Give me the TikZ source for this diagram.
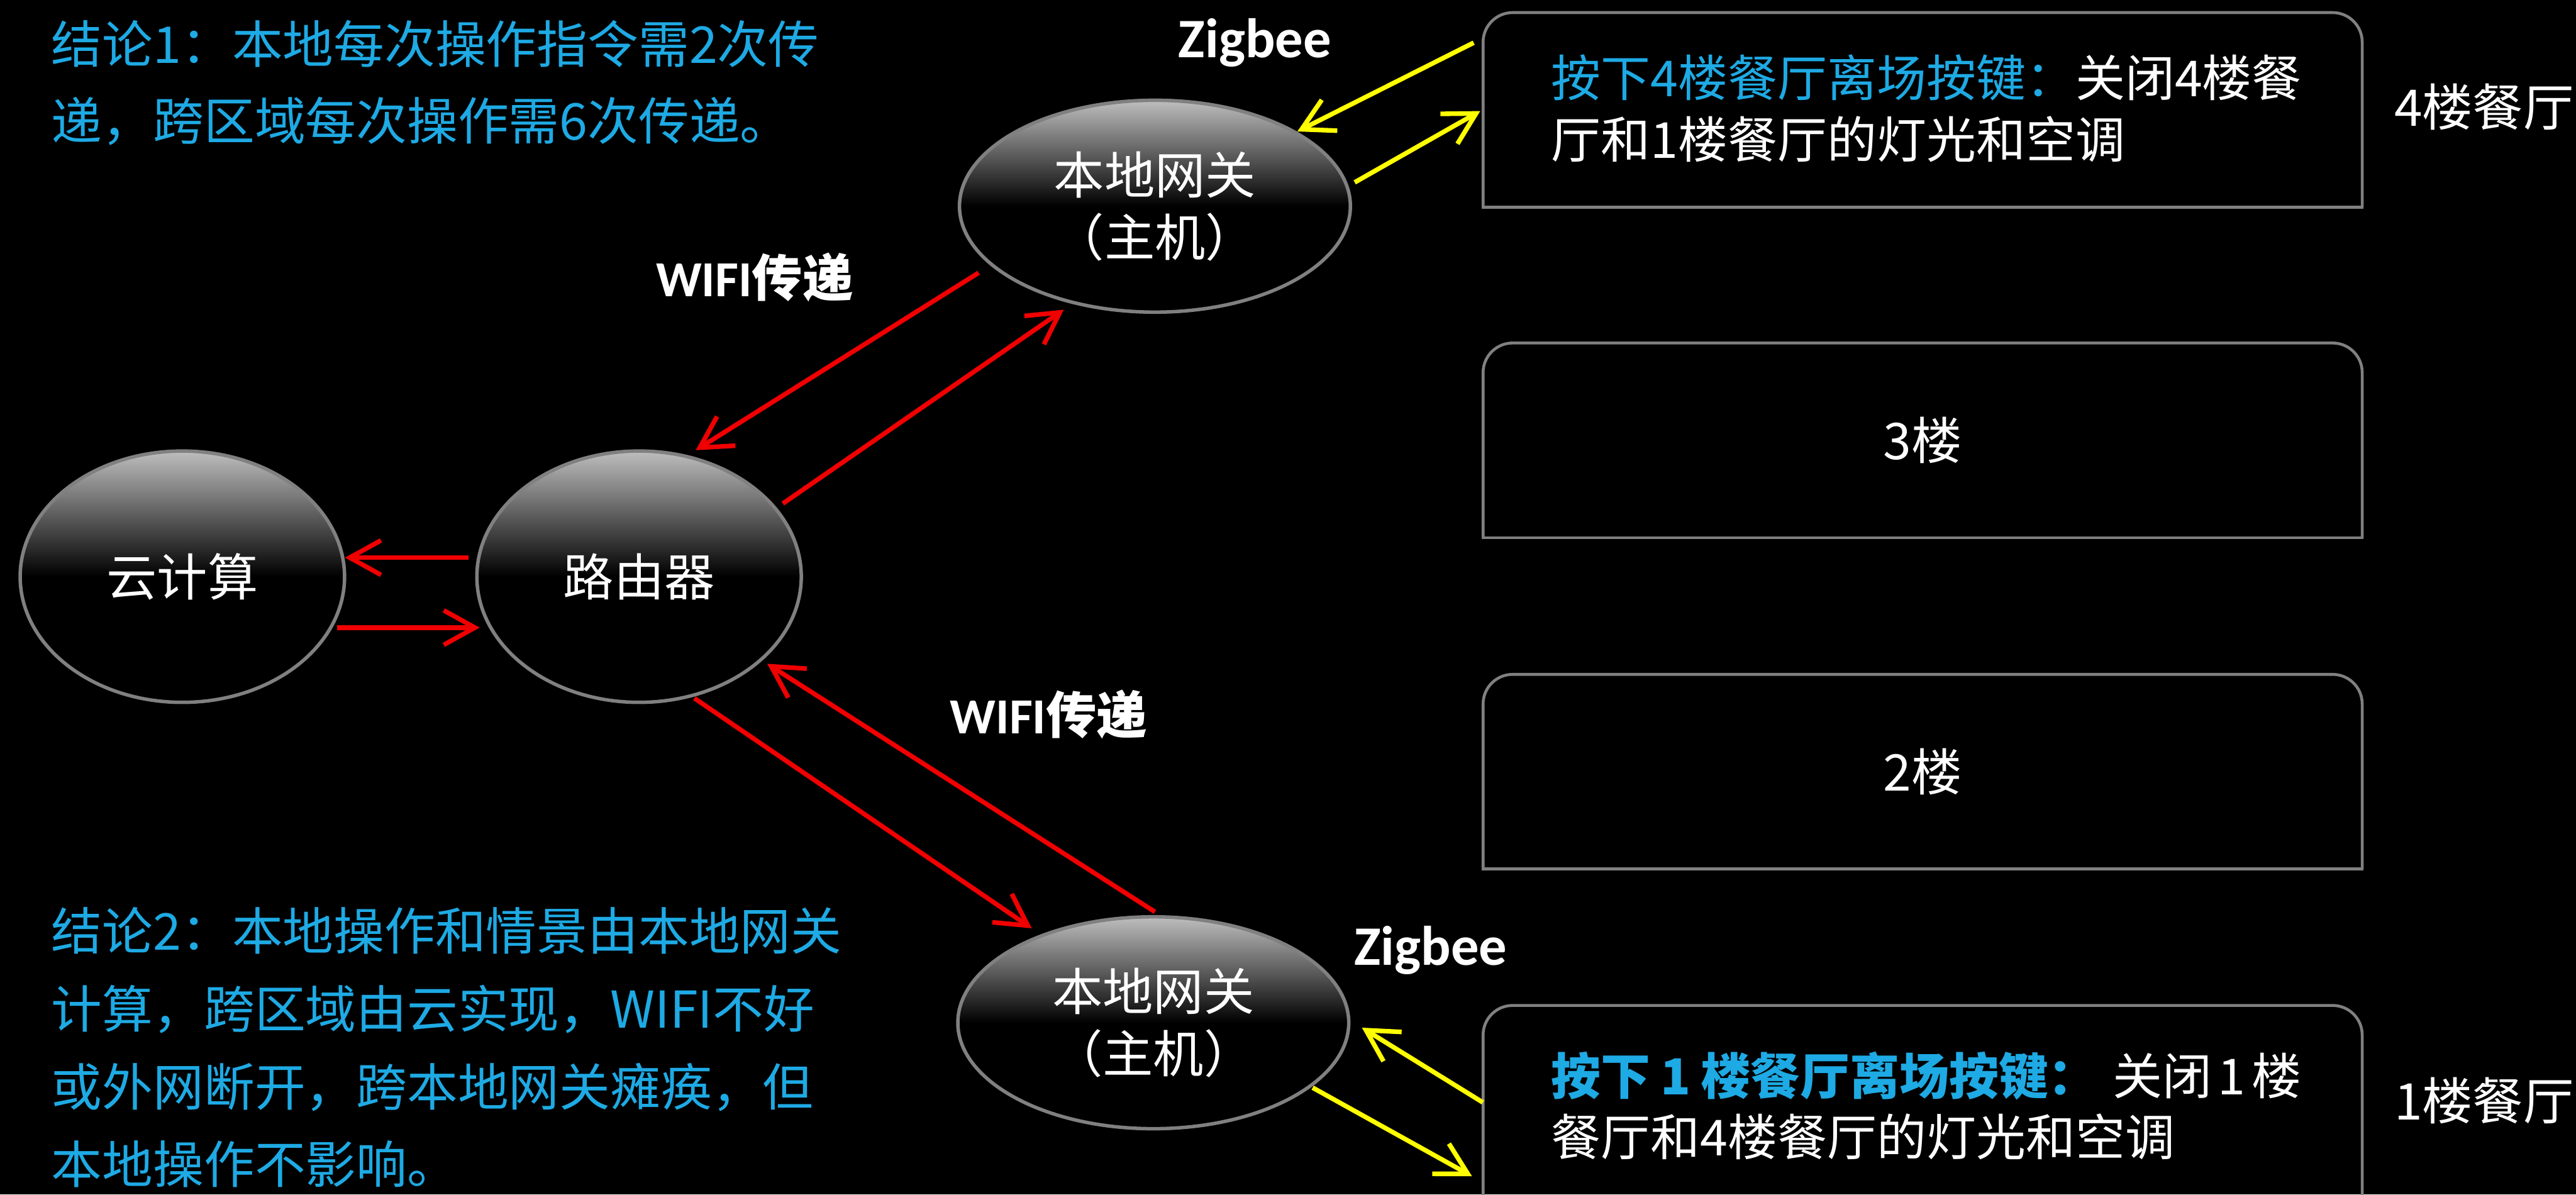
\documentclass[tikz,border=0pt]{standalone}
\usepackage{fontspec}
\setmainfont{Noto Sans CJK SC}
\newfontfamily\latb{Carlito}
\usetikzlibrary{arrows.meta,shapes.geometric,calc}
\definecolor{cblue}{RGB}{30,170,228}
\definecolor{cred}{RGB}{240,0,0}
\definecolor{cyel}{RGB}{255,255,0}
\definecolor{cgray}{RGB}{128,128,128}
\definecolor{ctop}{RGB}{190,190,190}
\tikzset{
  ell/.style={ellipse, draw=cgray, line width=1.2pt, top color=ctop, bottom color=black, middle color=black,
    inner sep=0pt, text=white, align=center, font=\fontsize{17.5pt}{21.5pt}\selectfont},
  smallell/.style={ell, minimum width=3.95cm, minimum height=3.06cm},
  bigell/.style={ell, minimum width=4.76cm, minimum height=2.58cm},
  floorbox/.style={rectangle, minimum width=10.69cm, minimum height=2.356cm, inner sep=0pt, text=white,
    font=\fontsize{17.5pt}{21pt}\selectfont},
  boxline/.style={draw=cgray, line width=1pt},
  bluetext/.style={text=cblue, align=left, inner sep=0pt, anchor=west},
  boxtext/.style={text=white, align=left, inner sep=0pt, anchor=west, font=\fontsize{17.2pt}{21.3pt}\selectfont},
  sidelbl/.style={text=white, inner sep=0pt, anchor=west, font=\fontsize{17.5pt}{21pt}\selectfont},
  ziglbl/.style={text=white, inner sep=0pt, anchor=base west, font=\latb\bfseries\fontsize{19.3pt}{23pt}\selectfont},
  wifilbl/.style={text=white, inner sep=0pt, anchor=base west, font=\bfseries\fontsize{17.5pt}{21pt}\selectfont},
  redarr/.style={draw=cred, line width=1.6pt, -{Straight Barb[length=0.38cm,width=0.42cm]}},
  yelarr/.style={draw=cyel, line width=1.6pt, -{Straight Barb[length=0.38cm,width=0.42cm]}}
}
\begin{document}
\begin{tikzpicture}[x=0.02cm, y=-0.02cm]
\fill[black] (0,0) rectangle (1568,727);
\useasboundingbox (0,0) rectangle (1568,727);

% ellipses
\node[smallell] (cloud) at (111,351) {云计算};
\node[smallell] (router) at (389,351) {路由器};
\node[bigell] (gw1) at (703,125.5) {本地网关\\（主机）};
\node[bigell] (gw2) at (702,622.5) {本地网关\\（主机）};

% floor boxes
\node[floorbox] (b1) at (1170.3,66.9) {};
\node[floorbox] (b2) at (1170.3,268) {3楼};
\node[floorbox] (b3) at (1170.3,469.7) {2楼};
\node[floorbox] (b4) at (1170.3,671.2) {};
\foreach \b in {b1,b2,b3,b4}{
  \draw[boxline, rounded corners=0.36cm] (\b.south west) -- (\b.north west) -- (\b.north east) -- (\b.south east);
  \draw[boxline, line cap=rect] (\b.south east) -- (\b.south west);
}

% box texts
\node[boxtext] (t1) at (944,65.8) {{\color{cblue}按下4楼餐厅离场按键：}关闭4楼餐\\厅和1楼餐厅的灯光和空调};
\node[boxtext] (t4) at (944,673) {{\bfseries\color{cblue}按下\hspace{0.2em}1\hspace{0.2em}楼餐厅离场按键：}\hspace{0.3em}关闭\hspace{0.12em}1\hspace{0.12em}楼\\餐厅和4楼餐厅的灯光和空调};

\node[sidelbl] (l4) at (1457,65) {4楼餐厅};
\node[sidelbl] (l1) at (1457,670) {1楼餐厅};

% conclusions
\node[bluetext, font=\fontsize{17.6pt}{26.6pt}\selectfont] (c1) at (31,50.5)
  {结论1：本地每次操作指令需2次传\\递，跨区域每次操作需6次传递。};
\node[bluetext, font=\fontsize{17.6pt}{27pt}\selectfont] (c2) at (31,637.5)
  {结论2：本地操作和情景由本地网关\\计算，跨区域由云实现，WIFI不好\\或外网断开，跨本地网关瘫痪，但\\本地操作不影响。};

% labels
\node[ziglbl] (z1) at (717,35) {Zigbee};
\node[ziglbl] (z2) at (824,587.5) {Zigbee};
\node[wifilbl] (w1) at (399,180.5) {{\latb WIFI}传递};
\node[wifilbl] (w2) at (578,446.4) {{\latb WIFI}传递};

% red arrows
\draw[redarr] ([shift={(-104,-11.6)}]router.center) -- ([shift={(99,-11.6)}]cloud.center);
\draw[redarr] ([shift={(94,31)}]cloud.center) -- ([shift={(-97,31)}]router.center);
\draw[redarr] ([shift={(-107.3,40.5)}]gw1.center) -- ([shift={(34.5,-77)}]router.center);
\draw[redarr] ([shift={(87.5,-44.5)}]router.center) -- ([shift={(-55.5,63)}]gw1.center);
\draw[redarr] ([shift={(1,-67.5)}]gw2.center) -- ([shift={(78,53)}]router.center);
\draw[redarr] ([shift={(33.7,74)}]router.center) -- ([shift={(-74,-57.5)}]gw2.center);

% yellow arrows
\draw[yelarr] ([shift={(-273.3,-40.9)}]b1.center) -- ([shift={(86.7,-45.5)}]gw1.center);
\draw[yelarr] ([shift={(121.6,-14.5)}]gw1.center) -- ([shift={(-269.3,0.7)}]b1.center);
\draw[yelarr] ([shift={(-267.7,-0.2)}]b4.center) -- ([shift={(127,3)}]gw2.center);
\draw[yelarr] ([shift={(97,39.5)}]gw2.center) -- ([shift={(-274.3,44.7)}]b4.center);
\end{tikzpicture}
\end{document}
